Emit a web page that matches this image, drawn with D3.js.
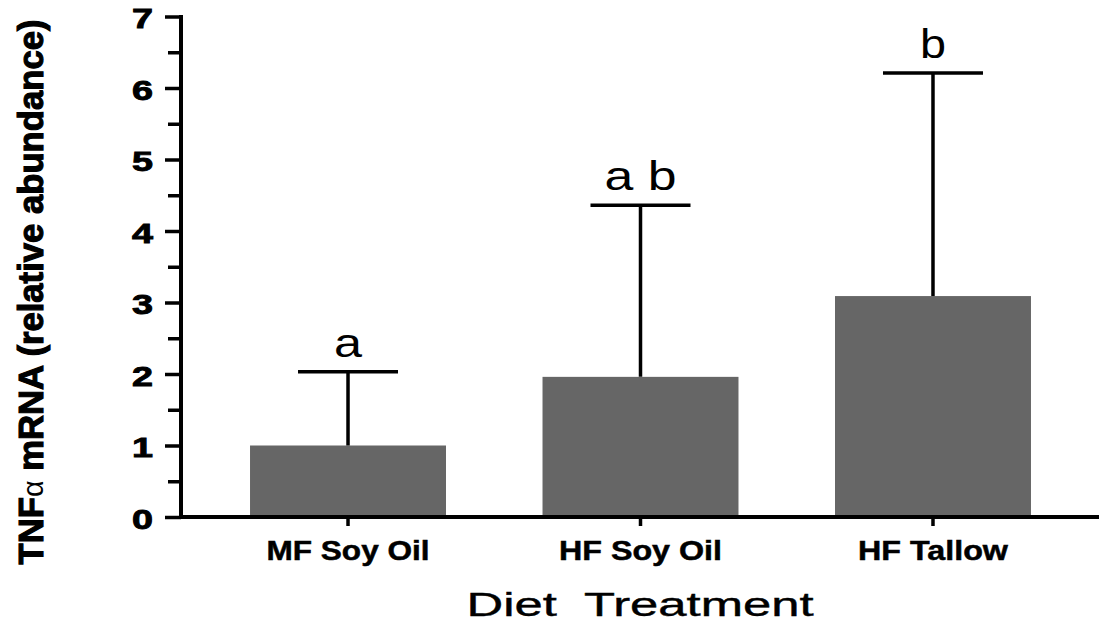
<!DOCTYPE html>
<html>
<head>
<meta charset="utf-8">
<script src="https://cdn.jsdelivr.net/npm/d3@7"></script>
<style>
  html, body { margin: 0; padding: 0; background: #fff; }
  svg { display: block; }
  text { font-family: "Liberation Sans", Arial, Helvetica, sans-serif; fill: #000; }
</style>
</head>
<body>
<svg id="chart" width="1099" height="624"></svg>
<script>
// Diet groups and TNF-alpha expression (relative abundance)
const categories = ["MF Soy Oil", "HF Soy Oil", "HF Tallow"];
const means = [1.0, 1.96, 3.09];
const errors = [1.03, 2.40, 3.12];
const sigLetters = ["a", "a b", "b"];
const yTicks = [0, 1, 2, 3, 4, 5, 6, 7];
const yMinorTicks = [0.5, 1.5, 2.5, 3.5, 4.5, 5.5, 6.5];

const svg = d3.select("#chart");

const x = d3.scaleBand()
  .domain(categories)
  .range([181, 1100])
  .paddingInner(0.33)
  .paddingOuter(0.236);

const y = d3.scaleLinear()
  .domain([0, 7])
  .range([517, 16.5]);

// bars
svg.append("g")
  .selectAll("rect")
  .data(categories)
  .join("rect")
  .attr("x", d => x(d))
  .attr("width", x.bandwidth())
  .attr("y", (d, i) => y(means[i]))
  .attr("height", (d, i) => y(0) - y(means[i]))
  .attr("fill", "#666666");

// upper error bars
const capHalf = 50;
const eb = svg.append("g").attr("stroke", "#000").attr("stroke-width", 3.5);
categories.forEach((c, i) => {
  const cx = x(c) + x.bandwidth() / 2;
  eb.append("line")
    .attr("x1", cx).attr("x2", cx)
    .attr("y1", y(means[i])).attr("y2", y(means[i] + errors[i]));
  eb.append("line")
    .attr("x1", cx - capHalf).attr("x2", cx + capHalf)
    .attr("y1", y(means[i] + errors[i])).attr("y2", y(means[i] + errors[i]));
});

// significance letters
const letterWidth = { "a": 28, "a b": 72, "b": 26 };
svg.append("g")
  .selectAll("text")
  .data(categories)
  .join("text")
  .attr("x", d => x(d) + x.bandwidth() / 2)
  .attr("y", (d, i) => y(means[i] + errors[i]) - 15)
  .attr("text-anchor", "middle")
  .attr("font-size", 40)
  .attr("textLength", (d, i) => letterWidth[sigLetters[i]])
  .attr("lengthAdjust", "spacingAndGlyphs")
  .style("white-space", "pre")
  .text((d, i) => sigLetters[i]);

// y axis
const yAxis = svg.append("g")
  .attr("transform", `translate(${x.range()[0]},0)`)
  .call(d3.axisLeft(y).tickValues(yTicks).tickSize(16).tickPadding(12)
        .tickFormat(d3.format("d")));
yAxis.select(".domain").remove();
yAxis.selectAll(".tick line").attr("stroke", "#000").attr("stroke-width", 3.5);
yAxis.selectAll(".tick text")
  .attr("font-size", 28)
  .attr("font-weight", "bold")
  .attr("font-family", "Liberation Sans, Arial, sans-serif")
  .attr("textLength", 21)
  .attr("lengthAdjust", "spacingAndGlyphs")
  .attr("stroke", "#000")
  .attr("stroke-width", 0.9)
  .attr("dy", "0.40em");

const yMinor = svg.append("g")
  .attr("transform", `translate(${x.range()[0]},0)`)
  .call(d3.axisLeft(y).tickValues(yMinorTicks).tickSize(13).tickFormat(""));
yMinor.select(".domain").remove();
yMinor.selectAll(".tick line").attr("stroke", "#000").attr("stroke-width", 3.5);

svg.append("line")
  .attr("x1", x.range()[0]).attr("x2", x.range()[0])
  .attr("y1", y(7) - 1.5).attr("y2", y(0) + 2)
  .attr("stroke", "#000").attr("stroke-width", 4);

// x axis
const xAxis = svg.append("g")
  .attr("transform", `translate(0,${y(0)})`)
  .call(d3.axisBottom(x).tickSize(9).tickPadding(14));
xAxis.select(".domain").remove();
xAxis.selectAll(".tick line").attr("stroke", "#000").attr("stroke-width", 3.5);
xAxis.selectAll(".tick text")
  .attr("font-size", 28)
  .attr("font-weight", "bold")
  .attr("font-family", "Liberation Sans, Arial, sans-serif")
  .attr("textLength", d => d === "HF Tallow" ? 150 : 163)
  .attr("lengthAdjust", "spacingAndGlyphs")
  .attr("stroke", "#000")
  .attr("stroke-width", 0.5);

svg.append("line")
  .attr("x1", x.range()[0] - 2).attr("x2", 1099)
  .attr("y1", y(0)).attr("y2", y(0))
  .attr("stroke", "#000").attr("stroke-width", 4);

// axis titles
svg.append("text")
  .attr("x", 640)
  .attr("y", 616)
  .attr("text-anchor", "middle")
  .attr("font-size", 33)
  .attr("textLength", 347)
  .attr("lengthAdjust", "spacingAndGlyphs")
  .attr("stroke", "#000")
  .attr("stroke-width", 0.4)
  .style("white-space", "pre")
  .text("Diet  Treatment");

const yTitle = svg.append("text")
  .attr("transform", "translate(43,292) rotate(-90)")
  .attr("text-anchor", "middle")
  .attr("font-size", 35)
  .attr("font-weight", "bold")
  .attr("stroke", "#000")
  .attr("stroke-width", 1.1)
  .attr("textLength", 545)
  .attr("lengthAdjust", "spacingAndGlyphs");
yTitle.append("tspan").text("TNF");
yTitle.append("tspan").attr("font-weight", "normal").attr("stroke-width", 0).attr("font-size", 29).text("α");
yTitle.append("tspan").text(" mRNA (relative abundance)");
</script>
</body>
</html>
